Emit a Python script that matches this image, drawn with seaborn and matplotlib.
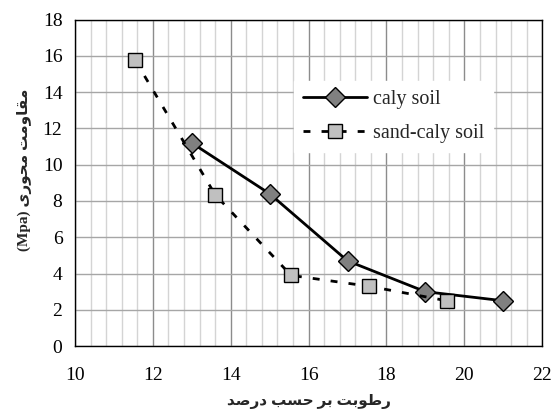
import numpy as np
import pandas as pd
import matplotlib.pyplot as plt
import seaborn as sns
from matplotlib.ticker import MultipleLocator, NullLocator

# values
moisture_clay = [13.0, 15.0, 17.0, 19.0, 21.0]
strength_clay = [11.2, 8.4, 4.7, 3.0, 2.5]
moisture_sand = [11.55, 13.6, 15.55, 17.55, 19.55]
strength_sand = [15.75, 8.35, 3.9, 3.3, 2.5]

label_clay = 'caly soil'
label_sand = 'sand-caly soil'
xlabel_fa = 'رطوبت بر حسب درصد'
ylabel_fa = 'مقاومت محوری'

# matplotlib has no arabic shaping, so pick the presentation forms by hand
# (isolated, final, initial, medial)
FORMS = {
    'ا': ('\uFE8D', '\uFE8E', None, None),
    'ب': ('\uFE8F', '\uFE90', '\uFE91', '\uFE92'),
    'ت': ('\uFE95', '\uFE96', '\uFE97', '\uFE98'),
    'ح': ('\uFEA1', '\uFEA2', '\uFEA3', '\uFEA4'),
    'د': ('\uFEA9', '\uFEAA', None, None),
    'ر': ('\uFEAD', '\uFEAE', None, None),
    'س': ('\uFEB1', '\uFEB2', '\uFEB3', '\uFEB4'),
    'ص': ('\uFEB9', '\uFEBA', '\uFEBB', '\uFEBC'),
    'ط': ('\uFEC1', '\uFEC2', '\uFEC3', '\uFEC4'),
    'ق': ('\uFED5', '\uFED6', '\uFED7', '\uFED8'),
    'م': ('\uFEE1', '\uFEE2', '\uFEE3', '\uFEE4'),
    'و': ('\uFEED', '\uFEEE', None, None),
    'ی': ('\uFBFC', '\uFBFD', '\uFBFE', '\uFBFF'),
}


def rtl(text):
    out = []
    for i, ch in enumerate(text):
        f = FORMS.get(ch)
        if f is None:
            out.append(ch)
            continue
        prev = text[i - 1] if i > 0 else None
        nxt = text[i + 1] if i + 1 < len(text) else None
        from_prev = prev in FORMS and FORMS[prev][2] is not None
        to_next = f[2] is not None and nxt in FORMS
        if from_prev and to_next:
            out.append(f[3])
        elif from_prev:
            out.append(f[1])
        elif to_next:
            out.append(f[2])
        else:
            out.append(f[0])
    return ''.join(out)[::-1]


clay = pd.DataFrame({'moisture': moisture_clay, 'strength': strength_clay})
sand = pd.DataFrame({'moisture': moisture_sand, 'strength': strength_sand})

sns.set_style('white')
plt.rcParams['font.family'] = ['Liberation Serif', 'DejaVu Sans']

fig = plt.figure(figsize=(5.55, 4.17), dpi=100)
ax = fig.add_axes([0.135, 0.170, 0.842, 0.783])

sns.lineplot(data=clay, x='moisture', y='strength', ax=ax, color='black',
             linewidth=2, marker='D', markersize=10, markerfacecolor='#808080',
             markeredgecolor='black', markeredgewidth=1, label=label_clay, zorder=3)
sns.lineplot(data=sand, x='moisture', y='strength', ax=ax, color='black',
             linewidth=2, linestyle=(0, (2.5, 4)), marker='s', markersize=10,
             markerfacecolor='#c0c0c0', markeredgecolor='black',
             markeredgewidth=1, label=label_sand, zorder=3)

ax.set_xlim(10, 22)
ax.set_ylim(0, 18)
ax.xaxis.set_major_locator(MultipleLocator(2))
ax.xaxis.set_minor_locator(MultipleLocator(0.4))
ax.yaxis.set_major_locator(MultipleLocator(2))
ax.yaxis.set_minor_locator(NullLocator())
ax.set_axisbelow(True)
ax.grid(False)
ax.xaxis.grid(True, which='major', color='#8c8c8c', linewidth=1)
ax.xaxis.grid(True, which='minor', color='#d4d4d4', linewidth=1)
ax.yaxis.grid(True, which='major', color='#a6a6a6', linewidth=1)

ax.tick_params(axis='both', which='major', direction='out', length=5, width=1,
               color='black', labelsize=14, labelcolor='black')
ax.tick_params(axis='x', which='major', pad=10)
ax.tick_params(axis='y', which='major', pad=4)
ax.tick_params(axis='x', which='minor', length=0)
for side in ['left', 'right', 'top', 'bottom']:
    ax.spines[side].set_visible(True)
    ax.spines[side].set_color('black')
    ax.spines[side].set_linewidth(1)

ax.set_xlabel(rtl(xlabel_fa), fontsize=11, fontweight='bold')
ax.xaxis.set_label_coords(0.5, -0.148)
ax.set_ylabel('(Mpa) ' + rtl(ylabel_fa), fontsize=11, fontweight='bold')
ax.yaxis.set_label_coords(-0.092, 0.54)

ax.legend(loc='center left', bbox_to_anchor=(0.469, 0.703), fontsize=14.5,
          frameon=True, facecolor='white', edgecolor='white', framealpha=1,
          fancybox=False, borderpad=0.45, borderaxespad=0, handlelength=3.15,
          handletextpad=0.3, labelspacing=0.74)

fig.savefig('out.png', dpi=100)
